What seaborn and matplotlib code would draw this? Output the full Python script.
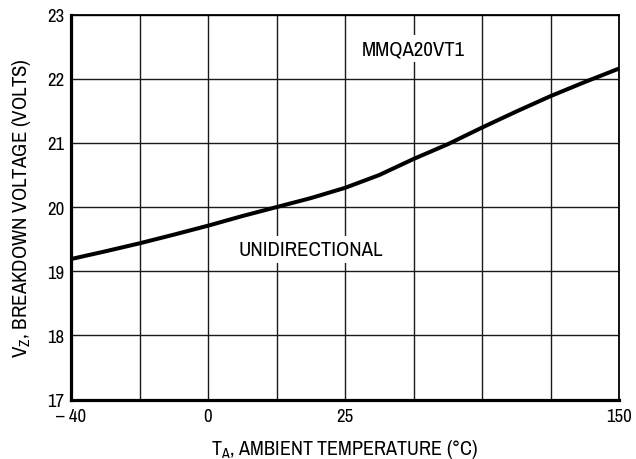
import matplotlib
matplotlib.use("Agg")
import matplotlib.pyplot as plt
import seaborn as sns
import pandas as pd
from matplotlib import font_manager

# The datasheet temperature axis is non-uniform: 8 equal grid columns,
# labelled at column 0 (-40), 2 (0), 4 (25) and 8 (150).
grid_pos = [0, 1, 2, 3, 4, 5, 6, 7, 8]
tick_pos = [0, 2, 4, 8]
tick_labels = ["\u2013 40", "0", "25", "150"]

# Breakdown-voltage curve, sampled at half-column steps (volts)
curve_x = [0.0, 0.5, 1.0, 1.5, 2.0, 2.5, 3.0, 3.5, 4.0, 4.5, 5.0, 5.5, 6.0, 6.5, 7.0, 7.5, 8.0]
curve_v = [19.19, 19.31, 19.435, 19.57, 19.71, 19.86, 20.00, 20.14, 20.30, 20.50,
           20.75, 20.98, 21.24, 21.49, 21.73, 21.95, 22.16]

y_ticks = [17, 18, 19, 20, 21, 22, 23]

sns.set_theme(style="white")
avail = {f.name for f in font_manager.fontManager.ttflist}
fam = [f for f in ["Liberation Sans Narrow", "Arial Narrow", "Archivo Narrow", "Roboto Condensed"] if f in avail][:1]
fam += ["Liberation Sans", "DejaVu Sans"]
plt.rcParams["font.family"] = fam
plt.rcParams["mathtext.fontset"] = "custom"
plt.rcParams["mathtext.rm"] = fam[0]
plt.rcParams["mathtext.it"] = fam[0]

fig = plt.figure(figsize=(6.36, 4.60), dpi=100)
ax = fig.add_axes([71 / 636, 1 - 400.5 / 460, 548 / 636, 384.8 / 460])

df = pd.DataFrame({"x": curve_x, "v": curve_v})
sns.lineplot(data=df, x="x", y="v", ax=ax, color="black", linewidth=2.9, zorder=5)

ax.set_xlim(0, 8)
ax.set_ylim(17, 23)
ax.set_xticks(grid_pos, minor=True)
ax.set_xticks(tick_pos)
ax.set_xticklabels(tick_labels)
ax.set_yticks(y_ticks)
ax.set_yticklabels([str(v) for v in y_ticks])
ax.grid(True, which="both", axis="x", color="#1a1a1a", linewidth=1.0)
ax.grid(True, which="major", axis="y", color="#1a1a1a", linewidth=1.0)
ax.tick_params(axis="both", which="both", length=0, labelsize=13.5, colors="black")
ax.tick_params(axis="x", pad=6)
ax.tick_params(axis="y", pad=5)

for s in ["left", "bottom"]:
    ax.spines[s].set_linewidth(2.3)
for s in ["top", "right"]:
    ax.spines[s].set_linewidth(1.3)
for s in ax.spines.values():
    s.set_color("black")
    s.set_zorder(6)

ax.set_xlabel(r"T$_\mathrm{A}$, AMBIENT TEMPERATURE (°C)", fontsize=14.5, labelpad=9.5, color="black")
ax.set_ylabel(r"V$_\mathrm{Z}$, BREAKDOWN VOLTAGE (VOLTS)", fontsize=15, labelpad=10, color="black")

ax.text(5.0, 22.387, "MMQA20VT1", fontsize=15, ha="center", va="baseline", zorder=4,
        color="black", bbox=dict(facecolor="white", edgecolor="none", pad=3))
ax.text(3.5, 19.258, "UNIDIRECTIONAL", fontsize=15, ha="center", va="baseline", zorder=4,
        color="black", bbox=dict(facecolor="white", edgecolor="none", pad=3))

fig.savefig("out.png", dpi=100, facecolor="white")
